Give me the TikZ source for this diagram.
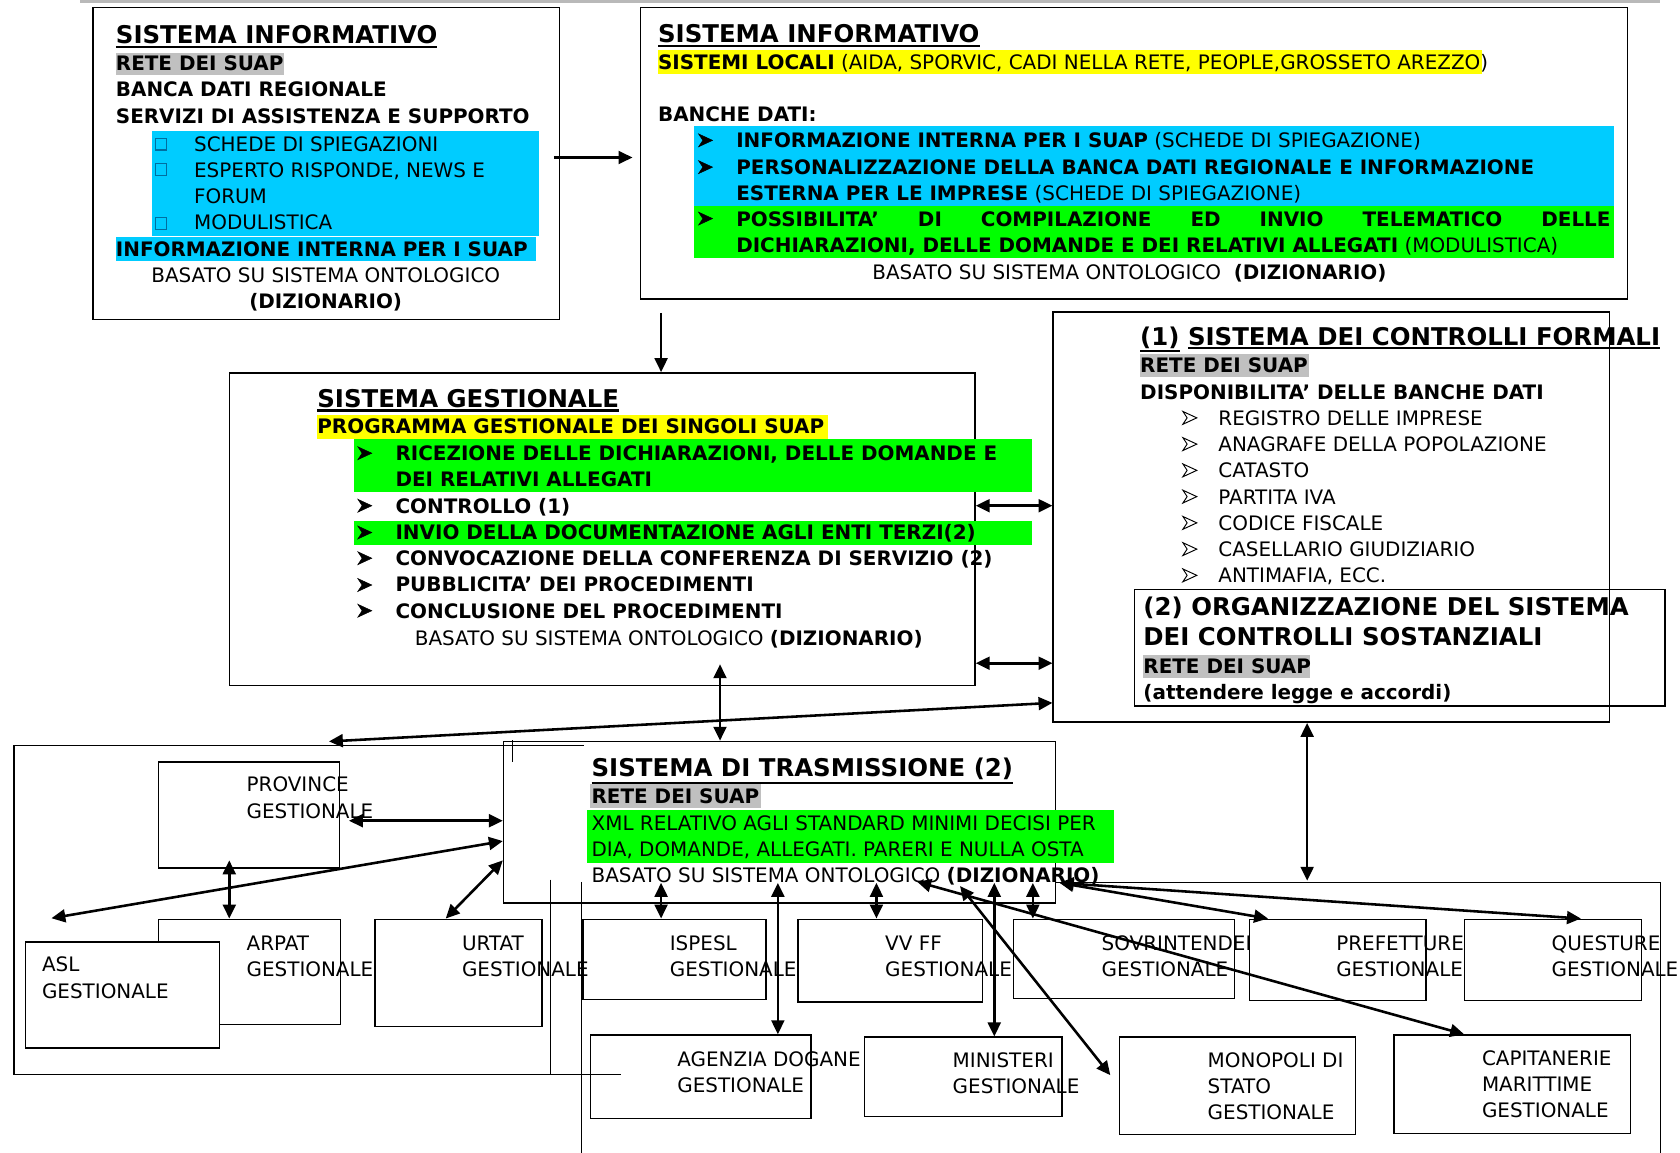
\documentclass[tikz,border=0pt]{standalone}
\usepackage{fontspec}
\setmainfont{DejaVu Sans}
\usetikzlibrary{arrows.meta,fit}

\definecolor{hlcyan}{RGB}{0,204,255}
\definecolor{hlgreen}{RGB}{0,255,0}
\definecolor{hlyellow}{RGB}{255,255,0}
\definecolor{hlgray}{RGB}{192,192,192}
\definecolor{sqcol}{RGB}{0,110,160}

% underlined titles
\newcommand{\ulbox}[1]{\vtop{\hbox{#1}\kern1.8pt\hrule height 2pt}}
% one node per text line, 24.5 apart
\newcommand{\txtlines}[5][]{%
  \foreach \ln [count=\k] in {#5}{\node[txt,#1] (#2-\k) at (#3,{#4+24.5*(\k-1)}) {\ln};}}

\tikzset{
  box/.style={draw, line width=1.4pt, inner sep=0pt},
  framepath/.style={line width=1.1pt},
  txt/.style={anchor=base west, inner sep=0pt, font=\fontsize{18.6}{24.5}\selectfont},
  boldtxt/.style={txt, font=\fontsize{18.6}{24.5}\selectfont\bfseries},
  bigtxt/.style={txt, font=\fontsize{22.8}{28}\selectfont\bfseries},
  ctrtxt/.style={txt, anchor=base},
  arr/.style={line width=2.4pt, -{Triangle[length=13pt,width=12pt]}},
  link/.style={line width=2.4pt, {Triangle[length=13pt,width=12pt]}-{Triangle[length=13pt,width=12pt]}},
  bulletfull/.pic={\filldraw[line width=0.5pt] (0,-6) -- (13,0) -- (0,6) -- (4,0) -- cycle;},
  bulletopen/.pic={\draw[line width=0.9pt] (0,-6) -- (13,0) -- (0,6) -- (4,0) -- cycle;},
}

\begin{document}
\begin{tikzpicture}[x=1pt,y=-1pt]
\useasboundingbox (0,0) rectangle (1568,1076);
\draw[gray!55, line width=3pt] (75,1.5) -- (1549,1.5);

% sistema informativo (regionale)
\node[box, fit={(87,7) (522,298)}] (info1) {};
\fill[hlgray] (108,49) rectangle (265,70);
\fill[hlcyan] (142,122) rectangle (503,220);
\fill[hlcyan] (108,221) rectangle (500,244);
\node[bigtxt] (info1-title) at (108,41) {\ulbox{SISTEMA INFORMATIVO}};
\txtlines[boldtxt]{info1-b}{108}{66}{RETE DEI SUAP, BANCA DATI REGIONALE, SERVIZI DI ASSISTENZA E SUPPORTO}
\foreach \yy in {129,153,203} \draw[sqcol, line width=1pt] (145,\yy) rectangle ++(10,11);
\txtlines{info1-s}{181}{141}{SCHEDE DI SPIEGAZIONI, {ESPERTO RISPONDE, NEWS E}, FORUM, MODULISTICA}
\node[boldtxt] (info1-int) at (108,239) {INFORMAZIONE INTERNA PER I SUAP};
\node[ctrtxt] (info1-bas) at (304,264) {BASATO SU SISTEMA ONTOLOGICO};
\node[ctrtxt] (info1-diz) at (304,288) {\bfseries (DIZIONARIO)};

% sistema informativo (locale)
\node[box, fit={(598,7) (1519,279)}] (info2) {};
\fill[hlyellow] (614,47) rectangle (1383,69);
\fill[hlcyan] (648,118) rectangle (1506,192);
\fill[hlgreen] (648,192) rectangle (1506,241);
\node[bigtxt] (info2-title) at (614,40) {\ulbox{SISTEMA INFORMATIVO}};
\node[txt] (info2-loc) at (614,65) {{\bfseries SISTEMI LOCALI} (AIDA, SPORVIC, CADI NELLA RETE, PEOPLE,GROSSETO AREZZO)};
\node[boldtxt] (info2-bd) at (614,113) {BANCHE DATI:};
\foreach \yy in {131,156,204} \pic at (652,\yy) {bulletfull};
\node[txt] (info2-l1) at (687,138) {{\bfseries INFORMAZIONE INTERNA PER I SUAP} (SCHEDE DI SPIEGAZIONE)};
\node[boldtxt] (info2-l2) at (687,162.5) {PERSONALIZZAZIONE DELLA BANCA DATI REGIONALE E INFORMAZIONE};
\node[txt] (info2-l3) at (687,187) {{\bfseries ESTERNA PER LE IMPRESE} (SCHEDE DI SPIEGAZIONE)};
\node[boldtxt] (info2-l4) at (687,211.5) {\makebox[816pt][s]{POSSIBILITA’ DI COMPILAZIONE ED INVIO TELEMATICO DELLE}};
\node[txt] (info2-l5) at (687,236) {{\bfseries DICHIARAZIONI, DELLE DOMANDE E DEI RELATIVI ALLEGATI} (MODULISTICA)};
\node[txt] (info2-bas) at (814,261) {BASATO SU SISTEMA ONTOLOGICO\ \ {\bfseries (DIZIONARIO)}};

% sistema gestionale
\node[box, fit={(214,348) (910,640)}] (gest) {};
\fill[hlyellow] (296,387) rectangle (773,410);
\fill[hlgreen] (330,410) rectangle (963,459);
\fill[hlgreen] (330,486) rectangle (963,509);
\node[bigtxt] (gest-title) at (296,380) {\ulbox{SISTEMA GESTIONALE}};
\node[boldtxt] (gest-prog) at (296,405) {PROGRAMMA GESTIONALE DEI SINGOLI SUAP};
\foreach \yy in {423,472,497,521,546,570} \pic at (334,\yy) {bulletfull};
\txtlines[boldtxt]{gest-l}{369}{430}{{RICEZIONE DELLE DICHIARAZIONI, DELLE DOMANDE E}, DEI RELATIVI ALLEGATI,
  CONTROLLO (1), INVIO DELLA DOCUMENTAZIONE AGLI ENTI TERZI(2),
  CONVOCAZIONE DELLA CONFERENZA DI SERVIZIO (2), PUBBLICITA’ DEI PROCEDIMENTI,
  CONCLUSIONE DEL PROCEDIMENTI}
\node[txt] (gest-bas) at (387,602) {BASATO SU SISTEMA ONTOLOGICO {\bfseries (DIZIONARIO)}};

% controlli formali e sostanziali
\node[box, fit={(983,291) (1502,674)}] (ctrl) {};
\fill[hlgray] (1064,330) rectangle (1222,352);
\node[bigtxt] (ctrl-title) at (1064,322) {\ulbox{(1)} \ulbox{SISTEMA DEI CONTROLLI FORMALI}};
\node[boldtxt] (ctrl-rete) at (1064,348) {RETE DEI SUAP};
\node[boldtxt] (ctrl-disp) at (1064,373) {DISPONIBILITA’ DELLE BANCHE DATI};
\foreach \k in {0,...,6} \pic at (1104,{390+24.5*\k}) {bulletopen};
\txtlines{ctrl-db}{1137}{397}{REGISTRO DELLE IMPRESE, ANAGRAFE DELLA POPOLAZIONE, CATASTO, PARTITA IVA,
  CODICE FISCALE, CASELLARIO GIUDIZIARIO, {ANTIMAFIA, ECC.}}
\node[box, line width=1.1pt, fit={(1059,550) (1554,659)}] (sost) {};
\fill[hlgray] (1067,611) rectangle (1223,633);
\node[bigtxt] (sost-t1) at (1067,574) {(2) ORGANIZZAZIONE DEL SISTEMA};
\node[bigtxt] (sost-t2) at (1067,602) {DEI CONTROLLI SOSTANZIALI};
\node[boldtxt] (sost-rete) at (1067,629) {RETE DEI SUAP};
\node[boldtxt] (sost-att) at (1067,653) {(attendere legge e accordi)};

% cornici in basso
\draw[framepath] (545,696) -- (13,696) -- (13,1003) -- (580,1003);
\draw[framepath] (514,821) -- (514,1003);
\draw[framepath] (478,691) -- (478,711);
\draw[framepath] (985,824) -- (1550,824) -- (1550,1080);
\draw[framepath] (543,823) -- (543,1080);

% sistema di trasmissione
\node[box, fit={(470,692) (985,843)}] (trasm) {};
\fill[hlgray] (551,732) rectangle (710,754);
\fill[hlgreen] (548,756) rectangle (1040,805);
\node[bigtxt] (trasm-title) at (552,725) {\ulbox{SISTEMA DI TRASMISSIONE (2)}};
\node[boldtxt] (trasm-rete) at (552,750) {RETE DEI SUAP};
\txtlines{trasm-xml}{552}{775}{XML RELATIVO AGLI STANDARD MINIMI DECISI PER, {DIA, DOMANDE, ALLEGATI. PARERI E NULLA OSTA}}
\node[txt] (trasm-bas) at (552,824) {BASATO SU SISTEMA ONTOLOGICO {\bfseries (DIZIONARIO)}};

% enti terzi
\node[box, fit={(148,711) (317,810)}] (prov) {};
\txtlines{prov-t}{230}{739}{PROVINCE, GESTIONALE}
\node[box, fit={(148,858) (318,956)}] (arpat) {};
\txtlines{arpat-t}{230}{887}{ARPAT, GESTIONALE}
\node[box, fill=white, fit={(24,879) (205,978)}] (asl) {};
\txtlines{asl-t}{39}{907}{ASL, GESTIONALE}
\node[box, fit={(350,858) (506,958)}] (urtat) {};
\txtlines{urtat-t}{431}{887}{URTAT, GESTIONALE}
\node[box, fit={(544,858) (715,933)}] (ispesl) {};
\txtlines{ispesl-t}{625}{887}{ISPESL, GESTIONALE}
\node[box, fit={(745,858) (917,935)}] (vvff) {};
\txtlines{vvff-t}{826}{887}{VV FF, GESTIONALE}
\node[box, fit={(946,858) (1152,932)}] (sovr) {};
\txtlines{sovr-t}{1028}{887}{SOVRINTENDENZE, GESTIONALE}
\node[box, fill=white, fit={(1166,858) (1331,934)}] (pref) {};
\txtlines{pref-t}{1247}{887}{PREFETTURE, GESTIONALE}
\node[box, fill=white, fit={(1367,858) (1532,934)}] (quest) {};
\txtlines{quest-t}{1448}{887}{QUESTURE, GESTIONALE}
\node[box, fit={(551,966) (757,1044)}] (dogane) {};
\txtlines{dogane-t}{632}{995}{AGENZIA DOGANE, GESTIONALE}
\node[box, fit={(807,968) (991,1042)}] (minist) {};
\txtlines{minist-t}{889}{996}{MINISTERI, GESTIONALE}
\node[box, fit={(1045,968) (1265,1059)}] (monop) {};
\txtlines{monop-t}{1127}{996}{MONOPOLI DI, STATO, GESTIONALE}
\node[box, fit={(1301,966) (1522,1058)}] (capit) {};
\txtlines{capit-t}{1383}{994}{CAPITANERIE, MARITTIME, GESTIONALE}

% collegamenti
\coordinate (a12) at (517,147);
\draw[arr] (a12) -- ([xshift=-7pt]a12 -| info2.west);
\coordinate (a2g) at (617,292);
\draw[arr] (a2g) -- (a2g |- gest.north);
\coordinate (gc1) at (0,472);
\coordinate (gc2) at (0,619);
\draw[link] (gest.east |- gc1) -- (ctrl.west |- gc1);
\draw[link] (gest.east |- gc2) -- (ctrl.west |- gc2);
\coordinate (gt) at (672,620);
\draw[link] (gt) -- (gt |- trasm.north);
\coordinate (lf) at (307,692);
\coordinate (lc) at (0,656);
\draw[link] (lf) -- (ctrl.west |- lc);
\coordinate (cr) at (1220,822);
\draw[link] (cr |- ctrl.south) -- (cr);

\coordinate (pt) at (0,766);
\draw[link] ([xshift=8pt]prov.east |- pt) -- (trasm.west |- pt);
\coordinate (at) at (48,857);
\coordinate (ta) at (0,785);
\draw[link] (at) -- (trasm.west |- ta);
\coordinate (pa) at (214,803);
\draw[link] (pa) -- (pa |- arpat.north);
\coordinate (ut) at (0,803);
\draw[link] ([xshift=-12pt]urtat.north) -- (trasm.west |- ut);
\foreach \xx/\nm in {617/ispesl, 726/dogane, 818/vvff, 928/minist, 964/sovr}{
  \coordinate (d-\nm) at (\xx,824);
  \draw[link] (d-\nm) -- (d-\nm |- \nm.north);
}
\coordinate (mo) at (896,827);
\draw[link] (mo) -- ([shift={(-8pt,10pt)}]monop.west);
\coordinate (ca) at (856,823);
\draw[link] (ca) -- ([xshift=-45pt]capit.north);
\coordinate (pq) at (989,824);
\draw[link] (pq) -- ([xshift=-65pt]pref.north);
\draw[link] (pq) -- ([xshift=26pt]quest.north);
\end{tikzpicture}
\end{document}
